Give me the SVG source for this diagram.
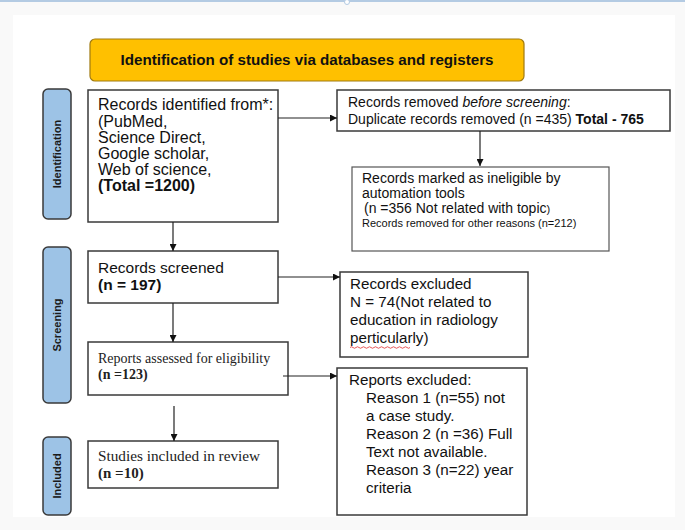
<svg xmlns="http://www.w3.org/2000/svg" width="685" height="530" viewBox="0 0 685 530">
<style>
.box{fill:#fff;stroke:#3a3a3a;stroke-width:1.5}
.pill{fill:#9dc3e6;stroke:#3a3a3a;stroke-width:1.5}
.pt{font-family:"Liberation Sans",Arial,sans-serif;font-weight:bold;font-size:11px;fill:#1a1a1a;text-anchor:middle}
.s{font-family:"Liberation Sans",Arial,sans-serif;fill:#111}
.r{font-family:"Liberation Serif","Times New Roman",serif;fill:#222}
.b{font-weight:bold}
.con{stroke:#222;stroke-width:1.2;fill:none;marker-end:url(#ah)}
</style>
<defs>
<marker id="ah" viewBox="0 0 10 10" refX="10" refY="5" markerWidth="7" markerHeight="7" markerUnits="userSpaceOnUse" orient="auto">
<path d="M0,0 L10,5 L0,10 z" fill="#111"/>
</marker>
</defs>
<rect x="0" y="0" width="685" height="530" fill="#f9f9f9"/>
<rect x="13" y="15" width="662" height="502" fill="#ffffff"/>
<line x1="0" y1="1" x2="685" y2="1" stroke="#b4cbe3" stroke-width="2"/>
<circle cx="347" cy="2" r="2.5" fill="#fff" stroke="#b4cbe3" stroke-width="1"/>

<g id="title">
<rect x="90" y="39" width="434" height="42" rx="5" fill="#ffc000" stroke="#a07a10" stroke-width="1.2"/>
<text x="307" y="65" class="s b" font-size="15.5" text-anchor="middle" textLength="373" lengthAdjust="spacingAndGlyphs">Identification of studies via databases and registers</text>
</g>

<g id="phase-identification">
<rect x="43" y="89" width="28" height="130" rx="5" class="pill"/>
<text class="pt" transform="translate(61,154) rotate(-90)">Identification</text>
</g>
<g id="phase-screening">
<rect x="43" y="247" width="28" height="156" rx="5" class="pill"/>
<text class="pt" transform="translate(61,325) rotate(-90)">Screening</text>
</g>
<g id="phase-included">
<rect x="43" y="437" width="28" height="78" rx="5" class="pill"/>
<text class="pt" transform="translate(61,476) rotate(-90)">Included</text>
</g>

<g id="records-identified">
<rect x="88" y="90" width="190" height="132" class="box"/>
<text class="s" font-size="16">
<tspan x="98" y="110">Records identified from*:</tspan>
<tspan x="98" y="127">(PubMed,</tspan>
<tspan x="98" y="143">Science Direct,</tspan>
<tspan x="98" y="159">Google scholar,</tspan>
<tspan x="98" y="175">Web of science,</tspan>
<tspan x="98" y="191" class="b">(Total =1200)</tspan>
</text>
</g>

<g id="records-removed">
<rect x="337" y="90" width="333" height="41" class="box"/>
<text class="s" font-size="14">
<tspan x="348" y="107">Records removed <tspan font-style="italic">before screening</tspan>:</tspan>
<tspan x="348" y="124">Duplicate records removed (n =435) <tspan class="b">Total - 765</tspan></tspan>
</text>
</g>

<g id="records-ineligible">
<rect x="352" y="167" width="257" height="84" class="box" style="stroke:#555;stroke-width:1.2"/>
<text class="s" font-size="14">
<tspan x="362" y="183">Records marked as ineligible by</tspan>
<tspan x="362" y="198">automation tools</tspan>
<tspan x="364" y="213">(n =356 Not related with topic<tspan font-size="11">)</tspan></tspan>
<tspan x="362" y="227" font-size="11">Records removed for other reasons (n=212)</tspan>
</text>
</g>

<g id="records-screened">
<rect x="88" y="251" width="190" height="52" class="box"/>
<text class="s" font-size="15.5">
<tspan x="98" y="273">Records screened</tspan>
<tspan x="98" y="290" class="b">(n = 197)</tspan>
</text>
</g>

<g id="records-excluded">
<rect x="340" y="272" width="188" height="85" class="box"/>
<text class="s" font-size="15.2">
<tspan x="350" y="289">Records excluded</tspan>
<tspan x="350" y="307">N = 74(Not related to</tspan>
<tspan x="350" y="325">education in radiology</tspan>
<tspan x="350" y="343">perticularly)</tspan>
</text>
<path d="M350,347.5 q1.5,-1.5 3,0 t3,0 t3,0 t3,0 t3,0 t3,0 t3,0 t3,0 t3,0 t3,0 t3,0 t3,0 t3,0 t3,0 t3,0 t3,0 t3,0 t3,0 t3,0 t3,0" fill="none" stroke="#e03030" stroke-width="0.8"/>
</g>

<g id="reports-assessed">
<rect x="88" y="342" width="200" height="53" class="box"/>
<text class="r" font-size="14">
<tspan x="98" y="363">Reports assessed for eligibility</tspan>
<tspan x="98" y="379" class="b">(n =123)</tspan>
</text>
</g>

<g id="reports-excluded">
<rect x="337" y="368" width="190" height="147" class="box"/>
<text class="s" font-size="15.2">
<tspan x="349" y="385">Reports excluded:</tspan>
<tspan x="366" y="403">Reason 1 (n=55) not</tspan>
<tspan x="366" y="421">a case study.</tspan>
<tspan x="366" y="439">Reason 2 (n =36) Full</tspan>
<tspan x="366" y="457">Text not available.</tspan>
<tspan x="366" y="475">Reason 3 (n=22) year</tspan>
<tspan x="366" y="493">criteria</tspan>
</text>
</g>

<g id="studies-included">
<rect x="88" y="441" width="190" height="47" class="box"/>
<text class="r" font-size="15">
<tspan x="98" y="461" textLength="162" lengthAdjust="spacingAndGlyphs">Studies included in review</tspan>
<tspan x="98" y="478" class="b">(n =10)</tspan>
</text>
</g>

<g id="connectors">
<line x1="278" y1="118" x2="337" y2="118" class="con"/>
<line x1="480" y1="131" x2="480" y2="166" class="con"/>
<line x1="173" y1="222" x2="173" y2="251" class="con"/>
<line x1="278" y1="277" x2="340" y2="277" class="con"/>
<line x1="173" y1="303" x2="173" y2="342" class="con"/>
<line x1="283" y1="376" x2="337" y2="376" class="con"/>
<line x1="174" y1="406" x2="174" y2="441" class="con"/>
</g>
</svg>
